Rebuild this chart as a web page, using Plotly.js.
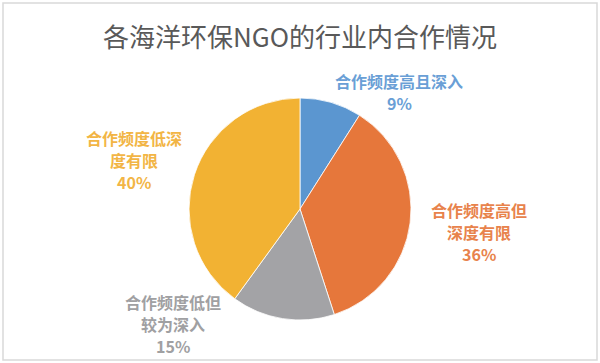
<!DOCTYPE html>
<html>
<head>
<meta charset="utf-8">
<script src="https://cdn.plot.ly/plotly-3.0.1.min.js"></script>
<style>html,body{margin:0;padding:0;background:#fff;}#chart{width:600px;height:363px;}</style>
</head>
<body>
<div id="chart"></div>
<script>
const categories = ['合作频度高且深入', '合作频度高但深度有限', '合作频度低但较为深入', '合作频度低深度有限'];
const labelLines = [['合作频度高且深入'], ['合作频度高但', '深度有限'], ['合作频度低但', '较为深入'], ['合作频度低深', '度有限']];
const values = [9, 36, 15, 40];
const sliceColors = ['#5B96D0', '#E6773B', '#A3A3A6', '#F2B233'];
const textColors = ['#6A9FD6', '#E8834C', '#A0A0A2', '#F2B545'];
const titleText = '各海洋环保NGO的行业内合作情况';

const W = 600, H = 363;
// label first-line positions in pixels (layout only)
const labelPos = [[399, 81], [479, 210], [173, 302], [134, 138]];
const lineGap = 22;

const total = values.reduce((a, b) => a + b, 0);
const annotations = [];
categories.forEach((c, i) => {
  const lines = labelLines[i].concat([Math.round(values[i] / total * 100) + '%']);
  lines.forEach((t, k) => {
    annotations.push({
      xref: 'paper', yref: 'paper',
      x: labelPos[i][0] / W, y: 1 - (labelPos[i][1] + k * lineGap) / H,
      xanchor: 'center', yanchor: 'middle', align: 'center',
      showarrow: false,
      text: t,
      font: {family: '"Noto Sans CJK SC", "Noto Sans", sans-serif', size: 16, color: textColors[i], weight: 'bold'}
    });
  });
});

const trace = {
  type: 'pie',
  labels: categories,
  values: values,
  sort: false,
  direction: 'clockwise',
  rotation: 0,
  textinfo: 'none',
  hoverinfo: 'label+percent',
  marker: {colors: sliceColors, line: {color: '#ffffff', width: 0.8}},
  domain: {x: [189 / W, 411 / W], y: [1 - 320 / H, 1 - 98 / H]},
  showlegend: false
};

const layout = {
  width: W, height: H,
  margin: {l: 0, r: 0, t: 0, b: 0},
  paper_bgcolor: '#ffffff',
  title: {
    text: titleText,
    x: 0.5, xanchor: 'center',
    y: 1 - 38 / H, yanchor: 'middle',
    font: {family: '"Noto Sans CJK SC", "Noto Sans", sans-serif', size: 26, color: '#595959'}
  },
  annotations: annotations,
  shapes: [{
    type: 'rect', xref: 'paper', yref: 'paper',
    x0: 3 / W, x1: 597 / W, y0: 1 - 360 / H, y1: 1 - 3 / H,
    line: {color: '#D9D9D9', width: 1.5}
  }]
};

Plotly.newPlot('chart', [trace], layout, {displayModeBar: false, staticPlot: true});
</script>
</body>
</html>
